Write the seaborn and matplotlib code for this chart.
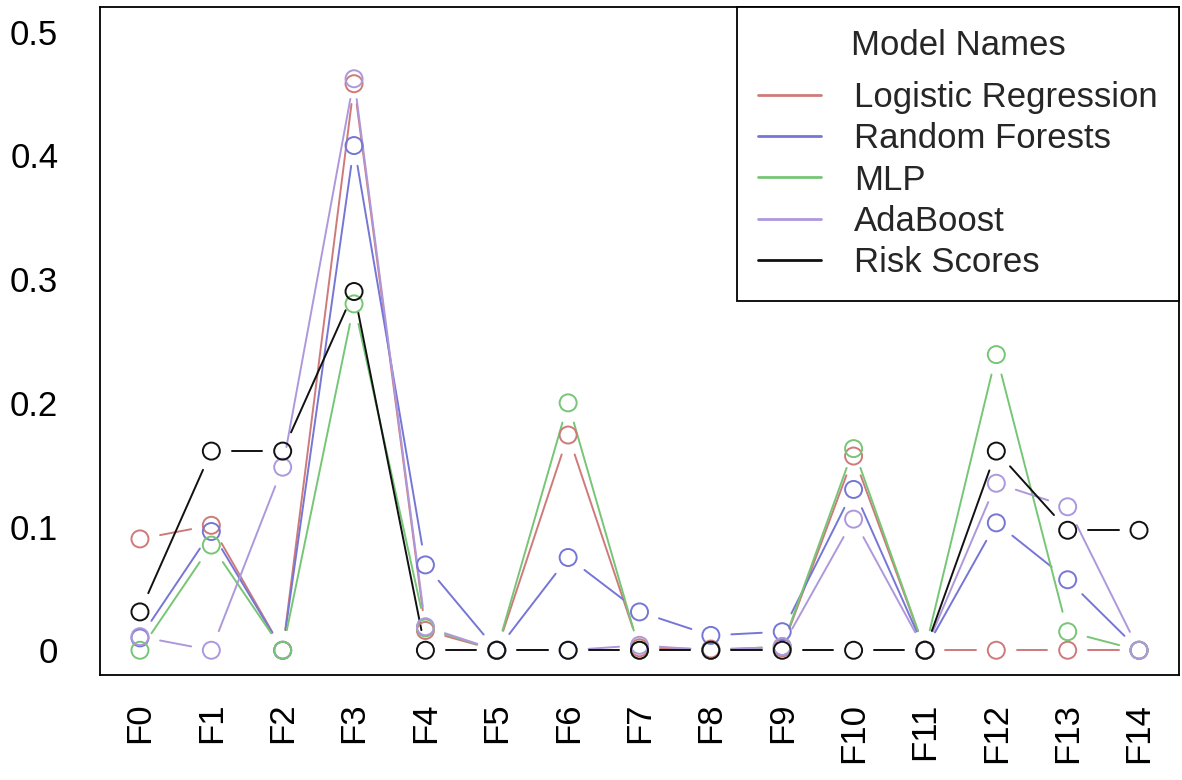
import numpy as np
import pandas as pd
import matplotlib
matplotlib.use("Agg")
import matplotlib.pyplot as plt
from matplotlib.lines import Line2D
import seaborn as sns

# Feature importance per model
features = [f"F{i}" for i in range(15)]
models = ["Logistic Regression", "Random Forests", "MLP", "AdaBoost", "Risk Scores"]

logistic_regression = [0.090, 0.101, 0.000, 0.458, 0.016, 0.000, 0.174, 0.002, 0.001, 0.002,
                       0.157, 0.000, 0.000, 0.000, 0.000]
random_forests = [0.010, 0.096, 0.000, 0.408, 0.069, 0.000, 0.075, 0.031, 0.012, 0.015,
                  0.130, 0.000, 0.103, 0.057, 0.000]
mlp = [0.000, 0.085, 0.000, 0.280, 0.018, 0.000, 0.200, 0.000, 0.000, 0.003,
       0.163, 0.000, 0.239, 0.015, 0.000]
adaboost = [0.011, 0.000, 0.148, 0.462, 0.019, 0.000, 0.000, 0.004, 0.000, 0.003,
            0.106, 0.000, 0.135, 0.116, 0.000]
risk_scores = [0.031, 0.161, 0.161, 0.290, 0.000, 0.000, 0.000, 0.000, 0.000, 0.000,
               0.000, 0.000, 0.161, 0.097, 0.097]

series = [logistic_regression, random_forests, mlp, adaboost, risk_scores]
colors = ["#cf7a7a", "#7676d6", "#76c676", "#ae98dc", "#111111"]
palette = dict(zip(models, colors))

W, H, DPI = 1182, 780, 100
sns.set_style("white")
plt.rcParams["font.family"] = ["Liberation Sans", "DejaVu Sans"]
FS = 25

fig = plt.figure(figsize=(W / DPI, H / DPI), dpi=DPI)
ax_l, ax_b = 100 / W, 1 - 675 / H
ax_w, ax_h = (1179 - 100) / W, (675 - 7) / H
ax = fig.add_axes([ax_l, ax_b, ax_w, ax_h])

xlim = (-0.56, 14.56)
ylim = (-0.02, 0.52)
ax.set_xlim(*xlim)
ax.set_ylim(*ylim)

# pixels per data unit, used to leave gaps between segments and points
px_x = ax_w * W / (xlim[1] - xlim[0])
px_y = ax_h * H / (ylim[1] - ylim[0])
gap = 20.5  # px from point centre

xs = np.arange(len(features))
seg_rows = []
pt_rows = []
for name, vals in zip(models, series):
    vals = np.asarray(vals, dtype=float)
    for i in range(len(xs)):
        pt_rows.append((name, xs[i], vals[i]))
    for i in range(len(xs) - 1):
        dx = (xs[i + 1] - xs[i]) * px_x
        dy = (vals[i + 1] - vals[i]) * px_y
        L = np.hypot(dx, dy)
        if L <= 2 * gap:
            continue
        f = gap / L
        x0 = xs[i] + f * (xs[i + 1] - xs[i])
        y0 = vals[i] + f * (vals[i + 1] - vals[i])
        x1 = xs[i + 1] - f * (xs[i + 1] - xs[i])
        y1 = vals[i + 1] - f * (vals[i + 1] - vals[i])
        seg_rows.append((name, f"{name}-{i}", x0, y0))
        seg_rows.append((name, f"{name}-{i}", x1, y1))

segs = pd.DataFrame(seg_rows, columns=["model", "seg", "x", "y"])
pts = pd.DataFrame(pt_rows, columns=["model", "x", "y"])

for name in models:
    c = palette[name]
    sns.lineplot(data=segs[segs.model == name], x="x", y="y", units="seg",
                 estimator=None, sort=False, color=c, linewidth=1.4,
                 legend=False, ax=ax)
    sns.scatterplot(data=pts[pts.model == name], x="x", y="y", color=c,
                    facecolor="none", edgecolor=c, linewidth=1.4, s=150,
                    marker="o", legend=False, ax=ax, zorder=3)

ax.set_xlim(*xlim)
ax.set_ylim(*ylim)
ax.set_xlabel("")
ax.set_ylabel("")
ax.set_xticks(xs)
ax.set_xticklabels(features, rotation=90, fontsize=FS)
yt = [0, 0.1, 0.2, 0.3, 0.4, 0.5]
ax.set_yticks(yt)
ax.set_yticklabels(["0", "0.1", "0.2", "0.3", "0.4", "0.5"], fontsize=FS)
ax.tick_params(axis="both", direction="out", length=14, width=1.2,
               color="black", labelcolor="black")
ax.tick_params(axis="y", pad=16)
ax.tick_params(axis="x", pad=6)
for sp in ax.spines.values():
    sp.set_visible(True)
    sp.set_color("black")
    sp.set_linewidth(1.3)

handles = [Line2D([0], [0], color=palette[m], lw=2) for m in models]
leg = ax.legend(handles, models, title="Model Names", loc="upper right",
                bbox_to_anchor=(1.0, 1.0), borderaxespad=0, fontsize=FS,
                title_fontsize=FS, frameon=True, fancybox=False,
                handlelength=1.8, handletextpad=0.95, labelspacing=0.24,
                borderpad=0.62)
# extra room between the title and the entries
leg._legend_box.sep = 14
frame = leg.get_frame()
frame.set_edgecolor("black")
frame.set_linewidth(1.3)
frame.set_facecolor("white")
frame.set_alpha(1)

fig.savefig("out.png", dpi=DPI)
